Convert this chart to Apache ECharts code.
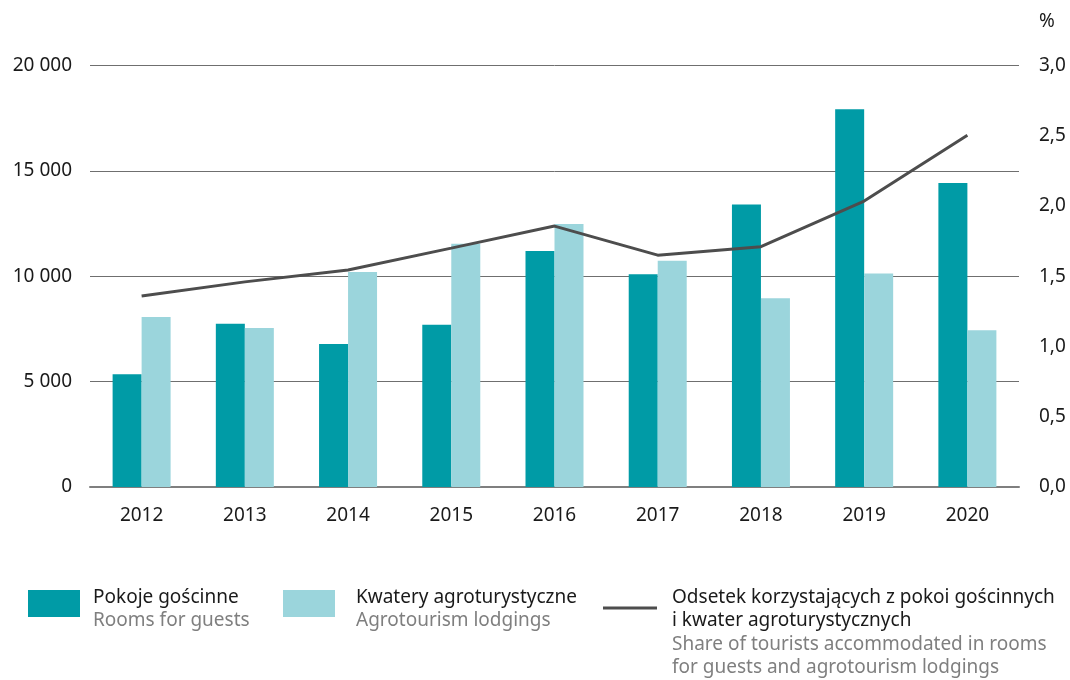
<!DOCTYPE html>
<html>
<head>
<meta charset="utf-8">
<script src="https://cdn.jsdelivr.net/npm/echarts@6/dist/echarts.min.js"></script>
<style>
html,body{margin:0;padding:0;background:#fff;}
#chart{width:1070px;height:680px;}
</style>
</head>
<body>
<div id="chart"></div>
<script>
const years = ['2012','2013','2014','2015','2016','2017','2018','2019','2020'];
const roomsForGuests = [5350, 7750, 6790, 7700, 11200, 10100, 13400, 17930, 14420];
const agrotourismLodgings = [8070, 7550, 10200, 11540, 12480, 10740, 8960, 10130, 7440];
const sharePercent = [1.36, 1.46, 1.545, 1.70, 1.857, 1.65, 1.71, 2.035, 2.504];
const leftTicks = [0, 5000, 10000, 15000, 20000];
const rightTicks = [0, 0.5, 1.0, 1.5, 2.0, 2.5, 3.0];

const FONT = 'Noto Sans';
const DARK = '#009ba6';
const LIGHT = '#9bd5dc';
const LINE = '#4d4d4d';
const LF = '19px "Noto Sans"';

const chart = echarts.init(document.getElementById('chart'));
chart.setOption({
  animation: false,
  backgroundColor: '#fff',
  textStyle: {fontFamily: FONT},
  grid: {left: 90, right: 51, top: 65.5, bottom: 193, containLabel: false},
  xAxis: {
    type: 'category',
    data: years,
    axisTick: {show: false},
    axisLine: {show: true, lineStyle: {color: '#7f7f7f', width: 2}},
    axisLabel: {color: '#1a1a1a', fontSize: 19, fontFamily: FONT, margin: 19}
  },
  yAxis: [
    {
      type: 'value', min: leftTicks[0], max: leftTicks[leftTicks.length-1], interval: 5000,
      axisLine: {show: false}, axisTick: {show: false},
      splitLine: {lineStyle: {color: '#6f6f6f', width: 1}},
      axisLabel: {color: '#1a1a1a', fontSize: 19, fontFamily: FONT, margin: 18,
        formatter: v => v === 0 ? '0' : String(v).replace(/\B(?=(\d{3})+(?!\d))/g, ' ')}
    },
    {
      type: 'value', min: rightTicks[0], max: rightTicks[rightTicks.length-1], interval: 0.5,
      position: 'right',
      name: '%', nameLocation: 'end', nameGap: 34,
      nameTextStyle: {color: '#1a1a1a', fontSize: 19, fontFamily: FONT, align: 'left', padding: [0,0,0,20]},
      axisLine: {show: false}, axisTick: {show: false}, splitLine: {show: false},
      axisLabel: {color: '#1a1a1a', fontSize: 19, fontFamily: FONT, margin: 20,
        formatter: v => v.toFixed(1).replace('.', ',')}
    }
  ],
  series: [
    {name: 'Pokoje gościnne', type: 'bar', data: roomsForGuests, barWidth: 29, barGap: '0%',
      itemStyle: {color: DARK}, yAxisIndex: 0},
    {name: 'Kwatery agroturystyczne', type: 'bar', data: agrotourismLodgings, barWidth: 29, barGap: '0%',
      itemStyle: {color: LIGHT}, yAxisIndex: 0},
    {name: 'Odsetek', type: 'line', data: sharePercent, yAxisIndex: 1, showSymbol: false, symbol: 'none',
      lineStyle: {color: LINE, width: 3}, z: 5}
  ],
  graphic: [
    {type: 'rect', shape: {x: 28, y: 590, width: 52, height: 27}, style: {fill: DARK}},
    {type: 'text', x: 93, y: 598, style: {text: 'Pokoje gościnne', fill: '#1a1a1a', font: LF, verticalAlign: 'middle'}},
    {type: 'text', x: 93, y: 621, style: {text: 'Rooms for guests', fill: '#7f7f7f', font: LF, verticalAlign: 'middle'}},
    {type: 'rect', shape: {x: 283, y: 590, width: 52, height: 27}, style: {fill: LIGHT}},
    {type: 'text', x: 356, y: 598, style: {text: 'Kwatery agroturystyczne', fill: '#1a1a1a', font: LF, verticalAlign: 'middle'}},
    {type: 'text', x: 356, y: 621, style: {text: 'Agrotourism lodgings', fill: '#7f7f7f', font: LF, verticalAlign: 'middle'}},
    {type: 'line', shape: {x1: 603, y1: 608, x2: 657, y2: 608}, style: {stroke: LINE, lineWidth: 3}},
    {type: 'text', x: 672, y: 598, style: {text: 'Odsetek korzystających z pokoi gościnnych', fill: '#1a1a1a', font: LF, verticalAlign: 'middle'}},
    {type: 'text', x: 672, y: 621, style: {text: 'i kwater agroturystycznych', fill: '#1a1a1a', font: LF, verticalAlign: 'middle'}},
    {type: 'text', x: 672, y: 645, style: {text: 'Share of tourists accommodated in rooms', fill: '#7f7f7f', font: LF, verticalAlign: 'middle'}},
    {type: 'text', x: 672, y: 668, style: {text: 'for guests and agrotourism lodgings', fill: '#7f7f7f', font: LF, verticalAlign: 'middle'}}
  ]
});
</script>
</body>
</html>
